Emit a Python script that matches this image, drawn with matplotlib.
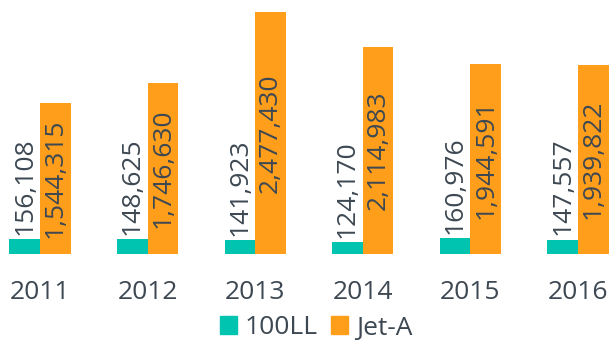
import matplotlib
matplotlib.use('Agg')
import matplotlib.pyplot as plt
from matplotlib.patches import Patch
import numpy as np

years = ['2011', '2012', '2013', '2014', '2015', '2016']
avgas_100ll = [156108, 148625, 141923, 124170, 160976, 147557]
jet_a = [1544315, 1746630, 2477430, 2114983, 1944591, 1939822]

COLOR_100LL = '#00C4B0'
COLOR_JETA = '#FF9E1B'
TEXT = '#3D4852'
FS = 19

plt.rcParams['font.family'] = ['Open Sans', 'DejaVu Sans']

fig = plt.figure(figsize=(6.09, 3.43), dpi=100)
ax = fig.add_axes([0, 89 / 343, 1, 254 / 343])

x = np.arange(len(years))
w = 0.284
b1 = ax.bar(x - w / 2, avgas_100ll, w, color=COLOR_100LL)
b2 = ax.bar(x + w / 2, jet_a, w, color=COLOR_JETA)

# small bars: value sits just above the bar
for rect, v in zip(b1, avgas_100ll):
    ax.annotate(f'{v:,}', (rect.get_x() + rect.get_width() / 2, rect.get_height()),
                xytext=(0, 3), textcoords='offset points', rotation=90,
                ha='center', va='bottom', fontsize=FS, color=TEXT)

# tall bars: value centred inside
for rect, v in zip(b2, jet_a):
    ax.text(rect.get_x() + rect.get_width() / 2, rect.get_height() / 2, f'{v:,}',
            rotation=90, ha='center', va='center', fontsize=FS, color=TEXT)

ax.set_xlim(-40 / 107.6, 569 / 107.6)
ax.set_ylim(0, 2600300)
ax.set_xticks(x)
ax.set_xticklabels(years, fontsize=FS, color=TEXT)
ax.tick_params(axis='x', length=0, pad=19)
ax.set_yticks([])
for s in ax.spines.values():
    s.set_visible(False)

handles = [Patch(color=COLOR_100LL, label='100LL'), Patch(color=COLOR_JETA, label='Jet-A')]
leg = fig.legend(handles=handles, loc='center', bbox_to_anchor=(316 / 609, 1 - 328 / 343),
                 ncol=2, frameon=False, fontsize=FS, handlelength=0.65, handleheight=0.65,
                 handletextpad=0.3, columnspacing=0.5, borderpad=0)
for t in leg.get_texts():
    t.set_color(TEXT)

plt.savefig('out.png', dpi=100)
plt.close()
